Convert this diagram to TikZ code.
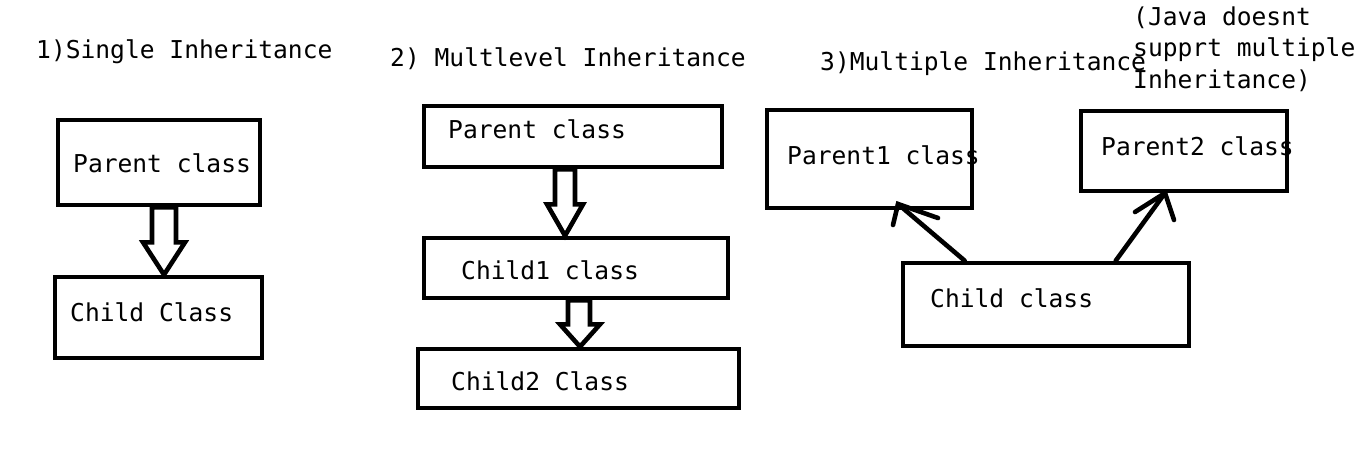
\documentclass[tikz,border=0pt]{standalone}
\usepackage{fontspec}
\newfontfamily\monof{DejaVu Sans Mono}
\usetikzlibrary{calc}
\tikzset{
  box/.style={draw, line width=4.6pt, inner sep=0pt},
  lbl/.style={anchor=base west, inner sep=0pt, font=\monof\fontsize{24.6}{31.5}\selectfont},
  hollow/.style={draw, line width=4.6pt, fill=white, line join=miter},
  thin/.style={draw, line width=4.6pt, line cap=round},
}
\begin{document}
\begin{tikzpicture}[x=1pt,y=-1pt]
\useasboundingbox[fill=white] (0,0) rectangle (1360,459);
% titles
\node[lbl] (t1) at (36,58) {1)Single Inheritance};
\node[lbl] (t2) at (390,66) {2) Multlevel Inheritance};
\node[lbl] (t3) at (820,70) {3)Multiple Inheritance};
\node[lbl] (t4a) at (1133,25) {(Java doesnt};
\node[lbl] (t4b) at (1133,56) {supprt multiple};
\node[lbl] (t4c) at (1133,88) {Inheritance)};
% section 1
\node[box, minimum width=202pt, minimum height=85pt] (sp) at (159,162.5) {};
\node[box, minimum width=207pt, minimum height=81pt] (sc) at (158.5,317.5) {};
\node[lbl] (spl) at (73,172) {Parent class};
\node[lbl] (scl) at (70,321) {Child Class};
% section 2
\node[box, minimum width=298pt, minimum height=61pt] (mp) at (573,136.5) {};
\node[box, minimum width=304pt, minimum height=60pt] (mc1) at (576,268) {};
\node[box, minimum width=321pt, minimum height=59pt] (mc2) at (578.5,378.5) {};
\node[lbl] (mpl) at (448,138) {Parent class};
\node[lbl] (mc1l) at (461,279) {Child1 class};
\node[lbl] (mc2l) at (451,390) {Child2 Class};
% section 3
\node[box, minimum width=205pt, minimum height=98pt] (p1) at (869.5,159) {};
\node[box, minimum width=206pt, minimum height=80pt] (p2) at (1184,151) {};
\node[box, minimum width=286pt, minimum height=83pt] (cc) at (1046,304.5) {};
\node[lbl] (p1l) at (787,164) {Parent1 class};
\node[lbl] (p2l) at (1101,155) {Parent2 class};
\node[lbl] (ccl) at (930,307) {Child class};
% hollow arrows
\path[hollow] ($(sp.south)+(-7,0)$) -- ++(0,35) -- ++(-9,0) -- ($(sc.north)+(5.5,0)$) -- ($(sp.south)+(26,35)$) -- ++(-9,0) -- ($(sp.south)+(17,0)$) -- cycle;
\path[hollow] ($(mp.south)+(-18,0)$) -- ++(0,35) -- ++(-8,0) -- ($(mc1.north)+(-11,0)$) -- ($(mp.south)+(10,35)$) -- ++(-8,0) -- ($(mp.south)+(2,0)$) -- cycle;
\path[hollow] ($(mc1.south)+(-8,0)$) -- ++(0,24) -- ++(-8,0) -- ($(mc2.north)+(1.5,0)$) -- ($(mc1.south)+(24,24)$) -- ++(-10,0) -- ($(mc1.south)+(14,0)$) -- cycle;
% open arrows
\coordinate (a1s) at ($(cc.north west)+(64,0)$);
\coordinate (a1e) at (898,204);
\draw[thin] (a1s) -- (a1e);
\draw[thin] (893,225) -- (a1e) -- (938,218);
\coordinate (a2s) at ($(cc.north west)+(215,0)$);
\coordinate (a2e) at (1165,193);
\draw[thin] (a2s) -- (a2e);
\draw[thin] (1135,212) -- (a2e) -- (1174,220);
\end{tikzpicture}
\end{document}
